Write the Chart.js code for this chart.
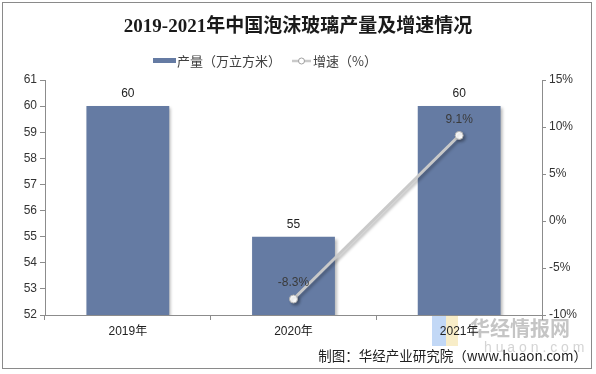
<!DOCTYPE html>
<html>
<head>
<meta charset="utf-8">
<script src="https://cdn.jsdelivr.net/npm/chart.js@4.4.0/dist/chart.umd.min.js"></script>
<style>
  html, body { margin: 0; padding: 0; background: #fff; }
  #wrap { width: 596px; height: 374px; position: relative; }
</style>
</head>
<body>
<div id="wrap"><canvas id="chart" width="596" height="374"></canvas></div>
<script>
// chart data
const years = ['2019年', '2020年', '2021年'];
const output = [60, 55, 60];           // 产量（万立方米）
const growth = [null, -8.3, 9.1];      // 增速（%）
const leftTicks = [52, 53, 54, 55, 56, 57, 58, 59, 60, 61];
const rightTicks = [-10, -5, 0, 5, 10, 15];

const titleText = '2019-2021年中国泡沫玻璃产量及增速情况';
const sourceText = '制图：华经产业研究院（www.huaon.com）';

const BAR_COLOR = '#657ba3';
const LINE_COLOR = '#c9c9c9';
const AXIS_COLOR = '#8c8c8c';
const TEXT_COLOR = '#404040';
const FONT = '"Liberation Sans", Arial, "Noto Sans CJK SC", sans-serif';

// frame, title, legend, source, watermark
const decorPlugin = {
    id: 'decor',
    beforeDraw(chart) {
        const ctx = chart.ctx;
        ctx.save();
        ctx.fillStyle = '#fff';
        ctx.fillRect(0, 0, chart.width, chart.height);
        ctx.strokeStyle = '#8a8a8a';
        ctx.lineWidth = 1;
        ctx.strokeRect(2.5, 2.5, 589, 366);

        // watermark
        ctx.globalAlpha = 0.55;
        ctx.fillStyle = '#8fb8ef';
        ctx.fillRect(432, 316, 14, 30);
        ctx.fillStyle = '#f3df9a';
        ctx.fillRect(446, 316, 12, 30);
        ctx.globalAlpha = 1;
        ctx.fillStyle = 'rgba(150,150,150,0.55)';
        ctx.font = 'bold 20px "Noto Sans CJK SC", sans-serif';
        ctx.textAlign = 'left';
        ctx.textBaseline = 'middle';
        ctx.fillText('华经情报网', 470, 328);
        ctx.font = '14px "Liberation Sans", sans-serif';
        ctx.fillStyle = 'rgba(170,170,170,0.5)';
        ctx.fillText('h u a o n . c o m', 484, 348);
        ctx.restore();
    },
    afterDraw(chart) {
        const ctx = chart.ctx;
        ctx.save();
        // title
        ctx.fillStyle = '#1a1a1a';
        ctx.font = 'bold 19px "Liberation Serif", "Noto Sans CJK SC", serif';
        ctx.textAlign = 'center';
        ctx.textBaseline = 'middle';
        ctx.fillText(titleText, 298, 27);

        // legend
        ctx.font = '13px "Noto Sans CJK SC", sans-serif';
        ctx.textAlign = 'left';
        ctx.fillStyle = BAR_COLOR;
        ctx.fillRect(153, 58, 23, 5);
        ctx.fillStyle = TEXT_COLOR;
        ctx.fillText('产量（万立方米）', 177, 61);
        ctx.strokeStyle = LINE_COLOR;
        ctx.lineWidth = 2.5;
        ctx.beginPath();
        ctx.moveTo(292, 61);
        ctx.lineTo(311, 61);
        ctx.stroke();
        ctx.beginPath();
        ctx.arc(301.5, 61, 3, 0, Math.PI * 2);
        ctx.fillStyle = '#fff';
        ctx.fill();
        ctx.lineWidth = 1;
        ctx.strokeStyle = '#a0a0a0';
        ctx.stroke();
        ctx.fillStyle = TEXT_COLOR;
        ctx.fillText('增速（%）', 313, 61);

        // source
        ctx.font = '13.5px "Noto Sans CJK SC", sans-serif';
        ctx.textAlign = 'right';
        ctx.fillStyle = '#202020';
        ctx.fillText(sourceText, 587, 356);

        // value labels
        ctx.font = '12px ' + FONT;
        ctx.textAlign = 'center';
        ctx.textBaseline = 'bottom';
        ctx.fillStyle = '#222';
        chart.getDatasetMeta(1).data.forEach((bar, i) => {
            ctx.fillText(String(output[i]), bar.x, bar.y - 6);
        });
        ctx.fillStyle = '#3a3a3a';
        chart.getDatasetMeta(0).data.forEach((pt, i) => {
            if (growth[i] == null) return;
            ctx.fillText(growth[i].toFixed(1) + '%', pt.x, pt.y - 10);
        });
        ctx.restore();
    }
};

// soft shadow under bars and line
const shadowPlugin = {
    id: 'shadow',
    beforeDatasetDraw(chart, args) {
        const ctx = chart.ctx;
        ctx.save();
        ctx.shadowColor = 'rgba(0,0,0,0.28)';
        ctx.shadowBlur = 3;
        ctx.shadowOffsetX = 2;
        ctx.shadowOffsetY = 2;
    },
    afterDatasetDraw(chart) {
        chart.ctx.restore();
    }
};

new Chart(document.getElementById('chart'), {
    data: {
        labels: years,
        datasets: [
            {
                type: 'line',
                label: '增速（%）',
                data: growth,
                yAxisID: 'y1',
                borderColor: LINE_COLOR,
                borderWidth: 3,
                pointRadius: 4,
                pointBackgroundColor: '#fff',
                pointBorderColor: '#b0b0b0',
                pointBorderWidth: 1,
                spanGaps: false,
                order: 0
            },
            {
                type: 'bar',
                label: '产量（万立方米）',
                data: output,
                yAxisID: 'y',
                backgroundColor: BAR_COLOR,
                barPercentage: 0.5,
                categoryPercentage: 1,
                order: 1
            }
        ]
    },
    options: {
        responsive: false,
        animation: false,
        devicePixelRatio: 1,
        layout: { padding: { top: 80, left: 0, right: 0, bottom: 0 } },
        plugins: {
            legend: { display: false },
            title: { display: false },
            tooltip: { enabled: false }
        },
        scales: {
            x: {
                offset: true,
                grid: {
                    offset: true,
                    drawOnChartArea: false,
                    color: AXIS_COLOR,
                    tickLength: 5
                },
                border: { color: AXIS_COLOR },
                ticks: { color: '#222', font: { size: 12, family: FONT }, padding: 4 },
                afterFit(scale) { scale.height = 59; }
            },
            y: {
                position: 'left',
                min: 52,
                max: 61,
                afterBuildTicks(scale) { scale.ticks = leftTicks.map(v => ({ value: v })); },
                grid: { drawOnChartArea: false, color: AXIS_COLOR, tickLength: 5 },
                border: { color: AXIS_COLOR },
                ticks: { color: '#333', font: { size: 12, family: FONT }, padding: 3 },
                afterFit(scale) { scale.width = 45; }
            },
            y1: {
                position: 'right',
                min: -10,
                max: 15,
                afterBuildTicks(scale) { scale.ticks = rightTicks.map(v => ({ value: v })); },
                grid: { drawOnChartArea: false, color: AXIS_COLOR, tickLength: 4 },
                border: { color: AXIS_COLOR },
                ticks: {
                    color: '#333',
                    font: { size: 12, family: FONT },
                    padding: 3,
                    callback: v => v + '%'
                },
                afterFit(scale) { scale.width = 54; }
            }
        }
    },
    plugins: [decorPlugin, shadowPlugin]
});
</script>
</body>
</html>
